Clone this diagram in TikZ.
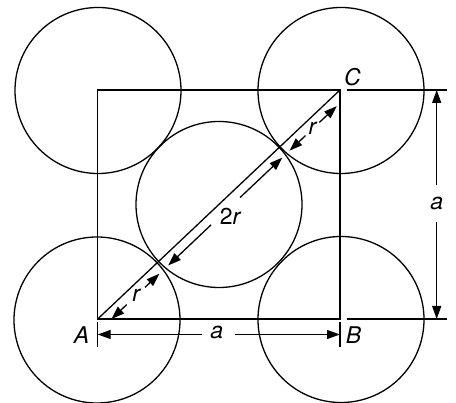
\documentclass[tikz,border=0pt]{standalone}
\usepackage{fontspec}
\setmainfont{TeX Gyre Heros}
\usetikzlibrary{arrows.meta}
\begin{document}
\begin{tikzpicture}[x=1pt,y=-1pt,
  line width=1.3pt,
  ball/.style={circle,draw,minimum size=166pt,inner sep=0pt},
  lbl/.style={font=\fontsize{23}{23}\selectfont\itshape,inner sep=0pt},
  tip/.style={-{Triangle[length=13pt,width=9pt]}},
  tipb/.style={{Triangle[length=13pt,width=9pt]}-}]
\useasboundingbox (0,0) rectangle (456,403);
% circles
\node[ball] (c1) at (98,90.5) {};
\node[ball] (c2) at (341,90.5) {};
\node[ball] (c3) at (97,320) {};
\node[ball] (c4) at (341,319.5) {};
\node[ball] (c5) at (219,204.5) {};
% square corners
\coordinate (A) at (97.7,319);
\coordinate (B) at (340,319);
\coordinate (C) at (340,90);
\coordinate (D) at (97.7,90);
\draw (A) -- (B) -- (C) -- (D) -- cycle;
\draw (A) -- (C);
% extension lines
\coordinate (e1) at (346.7,90);
\coordinate (e2) at (446.7,90);
\coordinate (e3) at (346.7,319);
\coordinate (e4) at (446.7,319);
\draw (e1) -- (e2);
\draw (e3) -- (e4);
% ticks at A and B
\coordinate (tA1) at (97.7,322);
\coordinate (tA2) at (97.7,347);
\coordinate (tB1) at (340,322);
\coordinate (tB2) at (340,347);
\draw (tA1) -- (tA2);
\draw (tB1) -- (tB2);
% horizontal dimension a
\coordinate (h1) at (97.7,334.5);
\coordinate (h2) at (202,334.5);
\coordinate (h3) at (235,334.5);
\coordinate (h4) at (340,334.5);
\draw[tipb] (h1) -- (h2);
\draw[tip] (h3) -- (h4);
\node[lbl] (ha) at (216.7,332.5) {a};
% vertical dimension a
\coordinate (v1) at (436.7,90);
\coordinate (v2) at (436.7,185);
\coordinate (v3) at (436.7,222);
\coordinate (v4) at (436.7,319);
\draw[tipb] (v1) -- (v2);
\draw[tip] (v3) -- (v4);
\node[lbl] (va) at (436.7,203) {a};
% corner labels
\node[lbl] (lA) at (81.5,335) {A};
\node[lbl] (lB) at (353.5,335) {B};
\node[lbl] (lC) at (352.5,77.5) {C};
% lower r
\coordinate (r1) at (111.5,319.0);
\coordinate (r2) at (126.7,304.6);
\coordinate (r3) at (145.0,287.4);
\coordinate (r4) at (159.4,273.7);
\draw[tipb] (r1) -- (r2);
\draw[tip] (r3) -- (r4);
\node[lbl] (lr1) at (136.2,295.2) {r};
% 2r
\coordinate (d1) at (168.2,265.5);
\coordinate (d2) at (211.0,224.9);
\coordinate (d3) at (240.1,197.5);
\coordinate (d4) at (282.3,157.6);
\draw[tipb] (d1) -- (d2);
\draw[tip] (d3) -- (d4);
\node[lbl] (l2r) at (230,216.5) {\upshape 2\itshape r};
% upper r
\coordinate (u1) at (289.5,150.7);
\coordinate (u2) at (305.5,135.6);
\coordinate (u3) at (319.3,122.5);
\coordinate (u4) at (336.8,106.1);
\draw[tipb] (u1) -- (u2);
\draw[tip] (u3) -- (u4);
\node[lbl] (lr2) at (312.4,128.6) {r};
\end{tikzpicture}
\end{document}
